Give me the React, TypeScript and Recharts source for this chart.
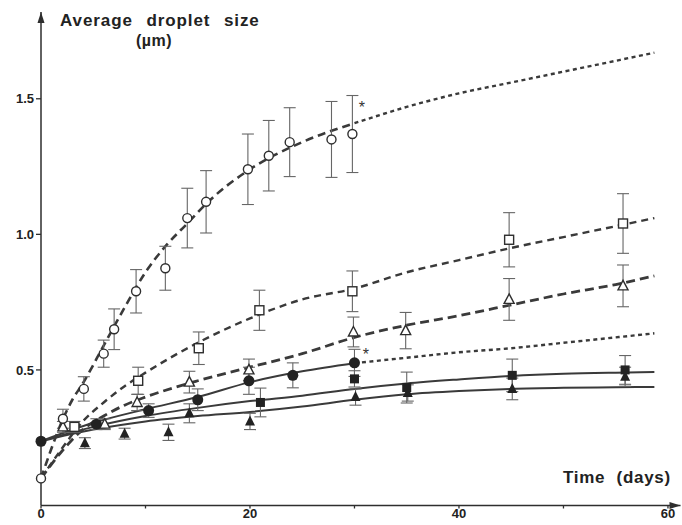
import React from "react";
import {
  ComposedChart,
  Line,
  Scatter,
  ErrorBar,
  XAxis,
  YAxis,
  ReferenceDot,
} from "recharts";

// measured points (day, size µm, error)
const openCircles = [
  { x: 0, y: 0.1, e: 0 },
  { x: 2.1, y: 0.32, e: 0.035 },
  { x: 4.1, y: 0.43, e: 0.045 },
  { x: 6.0, y: 0.56, e: 0.05 },
  { x: 7.0, y: 0.65, e: 0.075 },
  { x: 9.1, y: 0.79, e: 0.08 },
  { x: 11.9, y: 0.875, e: 0.081 },
  { x: 14.0, y: 1.06, e: 0.11 },
  { x: 15.8, y: 1.12, e: 0.115 },
  { x: 19.8, y: 1.24, e: 0.13 },
  { x: 21.8, y: 1.29, e: 0.13 },
  { x: 23.8, y: 1.34, e: 0.127 },
  { x: 27.8, y: 1.35, e: 0.14 },
  { x: 29.8, y: 1.37, e: 0.142 },
];
const openSquares = [
  { x: 3.2, y: 0.29, e: 0.02 },
  { x: 9.3, y: 0.46, e: 0.05 },
  { x: 15.1, y: 0.58, e: 0.06 },
  { x: 20.9, y: 0.72, e: 0.074 },
  { x: 29.8, y: 0.79, e: 0.075 },
  { x: 44.8, y: 0.98, e: 0.1 },
  { x: 55.7, y: 1.04, e: 0.11 },
];
const openTriangles = [
  { x: 2.1, y: 0.29, e: 0.02 },
  { x: 6.1, y: 0.3, e: 0.02 },
  { x: 9.2, y: 0.38, e: 0.03 },
  { x: 14.2, y: 0.455, e: 0.04 },
  { x: 19.9, y: 0.5, e: 0.04 },
  { x: 29.9, y: 0.64, e: 0.055 },
  { x: 34.9, y: 0.645, e: 0.067 },
  { x: 44.8, y: 0.76, e: 0.077 },
  { x: 55.7, y: 0.81, e: 0.077 },
];
const filledCircles = [
  { x: 0, y: 0.237, e: 0 },
  { x: 5.3, y: 0.3, e: 0.02 },
  { x: 10.3, y: 0.35, e: 0.025 },
  { x: 15.0, y: 0.39, e: 0.04 },
  { x: 19.9, y: 0.46, e: 0.05 },
  { x: 24.1, y: 0.48, e: 0.046 },
  { x: 30.0, y: 0.526, e: 0.05 },
];
const filledSquares = [
  { x: 21.0, y: 0.38, e: 0.053 },
  { x: 30.0, y: 0.467, e: 0.03 },
  { x: 35.0, y: 0.435, e: 0.057 },
  { x: 45.1, y: 0.48, e: 0.06 },
  { x: 55.9, y: 0.5, e: 0.053 },
];
const filledTriangles = [
  { x: 4.2, y: 0.23, e: 0.02 },
  { x: 8.0, y: 0.265, e: 0.02 },
  { x: 12.2, y: 0.27, e: 0.03 },
  { x: 14.2, y: 0.34, e: 0.035 },
  { x: 20.0, y: 0.31, e: 0.03 },
  { x: 30.1, y: 0.4, e: 0.03 },
  { x: 35.1, y: 0.415, e: 0.03 },
  { x: 45.1, y: 0.43, e: 0.04 },
  { x: 55.9, y: 0.475, e: 0.035 },
];

// fitted curves
const curveA = [
  { x: 0, y: 0.1 }, { x: 1, y: 0.21 }, { x: 2, y: 0.31 }, { x: 3, y: 0.39 },
  { x: 4, y: 0.45 }, { x: 6, y: 0.59 }, { x: 8, y: 0.73 }, { x: 10, y: 0.86 },
  { x: 12, y: 0.96 }, { x: 14, y: 1.04 }, { x: 16, y: 1.12 }, { x: 20, y: 1.24 },
  { x: 25, y: 1.34 }, { x: 30, y: 1.41 },
];
const curveAext = [
  { x: 30, y: 1.41 }, { x: 35, y: 1.47 }, { x: 40, y: 1.52 }, { x: 45, y: 1.56 },
  { x: 50, y: 1.6 }, { x: 55, y: 1.64 }, { x: 58.7, y: 1.67 },
];
const curveB = [
  { x: 0, y: 0.1 }, { x: 2, y: 0.21 }, { x: 4, y: 0.31 }, { x: 6, y: 0.38 },
  { x: 8, y: 0.44 }, { x: 10, y: 0.49 }, { x: 15, y: 0.6 }, { x: 20, y: 0.69 },
  { x: 25, y: 0.76 }, { x: 30, y: 0.8 }, { x: 35, y: 0.86 }, { x: 40, y: 0.905 },
  { x: 45, y: 0.95 }, { x: 50, y: 0.99 }, { x: 55, y: 1.03 }, { x: 58.7, y: 1.06 },
];
const curveC = [
  { x: 0, y: 0.1 }, { x: 2, y: 0.2 }, { x: 4, y: 0.28 }, { x: 6, y: 0.33 },
  { x: 8, y: 0.37 }, { x: 10, y: 0.4 }, { x: 15, y: 0.46 }, { x: 20, y: 0.51 },
  { x: 25, y: 0.56 }, { x: 30, y: 0.62 }, { x: 35, y: 0.665 }, { x: 40, y: 0.7 },
  { x: 45, y: 0.74 }, { x: 50, y: 0.78 }, { x: 55, y: 0.815 }, { x: 58.7, y: 0.847 },
];
const curveD = [
  { x: 0, y: 0.237 }, { x: 5, y: 0.305 }, { x: 10, y: 0.355 }, { x: 15, y: 0.4 },
  { x: 20, y: 0.455 }, { x: 25, y: 0.495 }, { x: 30, y: 0.525 },
];
const curveDext = [
  { x: 30, y: 0.525 }, { x: 35, y: 0.545 }, { x: 40, y: 0.565 }, { x: 45, y: 0.58 },
  { x: 50, y: 0.6 }, { x: 55, y: 0.62 }, { x: 58.7, y: 0.635 },
];
const curveE = [
  { x: 0, y: 0.237 }, { x: 5, y: 0.29 }, { x: 10, y: 0.33 }, { x: 15, y: 0.36 },
  { x: 20, y: 0.385 }, { x: 25, y: 0.405 }, { x: 30, y: 0.43 }, { x: 35, y: 0.45 },
  { x: 40, y: 0.465 }, { x: 45, y: 0.478 }, { x: 50, y: 0.486 }, { x: 55, y: 0.49 },
  { x: 58.7, y: 0.492 },
];
const curveF = [
  { x: 0, y: 0.237 }, { x: 5, y: 0.28 }, { x: 10, y: 0.31 }, { x: 15, y: 0.33 },
  { x: 20, y: 0.345 }, { x: 25, y: 0.365 }, { x: 30, y: 0.39 }, { x: 35, y: 0.41 },
  { x: 40, y: 0.422 }, { x: 45, y: 0.43 }, { x: 50, y: 0.434 }, { x: 55, y: 0.436 },
  { x: 58.7, y: 0.437 },
];

const xTicks = [0, 10, 20, 30, 40, 50, 60];
const xLabels = [0, 20, 40, 60];
const yTicks = [0.5, 1.0, 1.5];
const asterisks = [
  { x: 30.7, y: 1.474 },
  { x: 31.1, y: 0.563 },
];

const INK = "#2e2e2e";
const CURVE = "#3a3a3a";
const BAR = "#666";
const FONT = "'Liberation Sans', Arial, sans-serif";

const OpenCircle = (p: any) => (
  <circle cx={p.cx} cy={p.cy} r={4.5} fill="#fff" stroke={INK} strokeWidth={1.4} />
);
const OpenSquare = (p: any) => (
  <rect x={p.cx - 4.5} y={p.cy - 4.5} width={9} height={9} fill="#fff" stroke={INK} strokeWidth={1.4} />
);
const OpenTriangle = (p: any) => (
  <path
    d={`M${p.cx},${p.cy - 5.5}L${p.cx + 5},${p.cy + 4}L${p.cx - 5},${p.cy + 4}Z`}
    fill="#fff"
    stroke={INK}
    strokeWidth={1.4}
  />
);
const FilledCircle = (p: any) => <circle cx={p.cx} cy={p.cy} r={5.5} fill="#222" />;
const FilledSquare = (p: any) => (
  <rect x={p.cx - 4.5} y={p.cy - 4.5} width={9} height={9} fill="#222" />
);
const FilledTriangle = (p: any) => (
  <path d={`M${p.cx},${p.cy - 6}L${p.cx + 5},${p.cy + 4}L${p.cx - 5},${p.cy + 4}Z`} fill="#222" />
);

const UpArrow = (p: any) => (
  <path d={`M${p.cx},${p.cy}L${p.cx + 3.5},${p.cy + 11}L${p.cx - 3.5},${p.cy + 11}Z`} fill={INK} />
);
const RightArrow = (p: any) => (
  <path d={`M${p.cx},${p.cy}L${p.cx - 11},${p.cy - 3.5}L${p.cx - 11},${p.cy + 3.5}Z`} fill={INK} />
);
const Star = (p: any) => (
  <text x={p.cx} y={p.cy + 7} textAnchor="middle" fontSize={16} fill="#333" fontFamily={FONT}>
    *
  </text>
);

const series = [
  { data: openSquares, shape: OpenSquare },
  { data: openTriangles, shape: OpenTriangle },
  { data: openCircles, shape: OpenCircle },
  { data: filledTriangles, shape: FilledTriangle },
  { data: filledSquares, shape: FilledSquare },
  { data: filledCircles, shape: FilledCircle },
];

export default function App() {
  return (
    <div style={{ position: "absolute", left: 0, top: 0, width: 682, height: 525, background: "#fff" }}>
      <ComposedChart width={682} height={525} margin={{ top: 12, right: 1.5, left: 0, bottom: 0 }}>
        <XAxis
          type="number"
          dataKey="x"
          domain={[0, 61.2]}
          ticks={xTicks}
          tickFormatter={(v: number) => (xLabels.includes(v) ? String(v) : "")}
          height={19.5}
          tickSize={3}
          tickMargin={0}
          axisLine={{ stroke: INK, strokeWidth: 1.5 }}
          tickLine={{ stroke: INK, strokeWidth: 1.3 }}
          tick={{ fill: "#222", fontSize: 13, fontWeight: 700, fontFamily: FONT }}
        />
        <YAxis
          type="number"
          dataKey="y"
          domain={[0, 1.82]}
          ticks={yTicks}
          tickFormatter={(v: number) => v.toFixed(1)}
          width={41}
          tickSize={5}
          tickMargin={2}
          axisLine={{ stroke: INK, strokeWidth: 1.5 }}
          tickLine={{ stroke: INK, strokeWidth: 1.3 }}
          tick={{ fill: "#222", fontSize: 13, fontWeight: 700, fontFamily: FONT }}
        />

        <Line data={curveA} dataKey="y" type="monotone" stroke={CURVE} strokeWidth={2.6} strokeDasharray="8 5" dot={false} activeDot={false} isAnimationActive={false} />
        <Line data={curveAext} dataKey="y" type="monotone" stroke={CURVE} strokeWidth={2.4} strokeDasharray="4 3.5" dot={false} activeDot={false} isAnimationActive={false} />
        <Line data={curveB} dataKey="y" type="monotone" stroke={CURVE} strokeWidth={2.4} strokeDasharray="7 5" dot={false} activeDot={false} isAnimationActive={false} />
        <Line data={curveC} dataKey="y" type="monotone" stroke={CURVE} strokeWidth={2.8} strokeDasharray="9 5" dot={false} activeDot={false} isAnimationActive={false} />
        <Line data={curveDext} dataKey="y" type="monotone" stroke={CURVE} strokeWidth={2.4} strokeDasharray="4 3.5" dot={false} activeDot={false} isAnimationActive={false} />
        <Line data={curveD} dataKey="y" type="monotone" stroke={CURVE} strokeWidth={2} dot={false} activeDot={false} isAnimationActive={false} />
        <Line data={curveE} dataKey="y" type="monotone" stroke={CURVE} strokeWidth={2} dot={false} activeDot={false} isAnimationActive={false} />
        <Line data={curveF} dataKey="y" type="monotone" stroke={CURVE} strokeWidth={2} dot={false} activeDot={false} isAnimationActive={false} />

        {series.map((s, i) => (
          <Scatter key={i} data={s.data} dataKey="y" shape={s.shape} isAnimationActive={false}>
            <ErrorBar dataKey="e" direction="y" width={6} stroke={BAR} strokeWidth={1.1} />
          </Scatter>
        ))}

        {asterisks.map((a, i) => (
          <ReferenceDot key={i} x={a.x} y={a.y} ifOverflow="visible" shape={Star} />
        ))}
        <ReferenceDot x={0} y={1.82} ifOverflow="visible" shape={UpArrow} />
        <ReferenceDot x={61.2} y={0} ifOverflow="visible" shape={RightArrow} />
      </ComposedChart>

      <div style={{ position: "absolute", left: 60, top: 11, fontFamily: FONT, fontWeight: 700, fontSize: 17, color: "#222", wordSpacing: 8, letterSpacing: 0.9, whiteSpace: "nowrap" }}>
        Average droplet size
      </div>
      <div style={{ position: "absolute", left: 136, top: 32, fontFamily: FONT, fontWeight: 700, fontSize: 16, color: "#222", letterSpacing: 0.5, whiteSpace: "nowrap" }}>
        (µm)
      </div>
      <div style={{ position: "absolute", left: 563, top: 468, fontFamily: FONT, fontWeight: 700, fontSize: 17, color: "#222", wordSpacing: 6, letterSpacing: 0.7, whiteSpace: "nowrap" }}>
        Time (days)
      </div>
    </div>
  );
}
